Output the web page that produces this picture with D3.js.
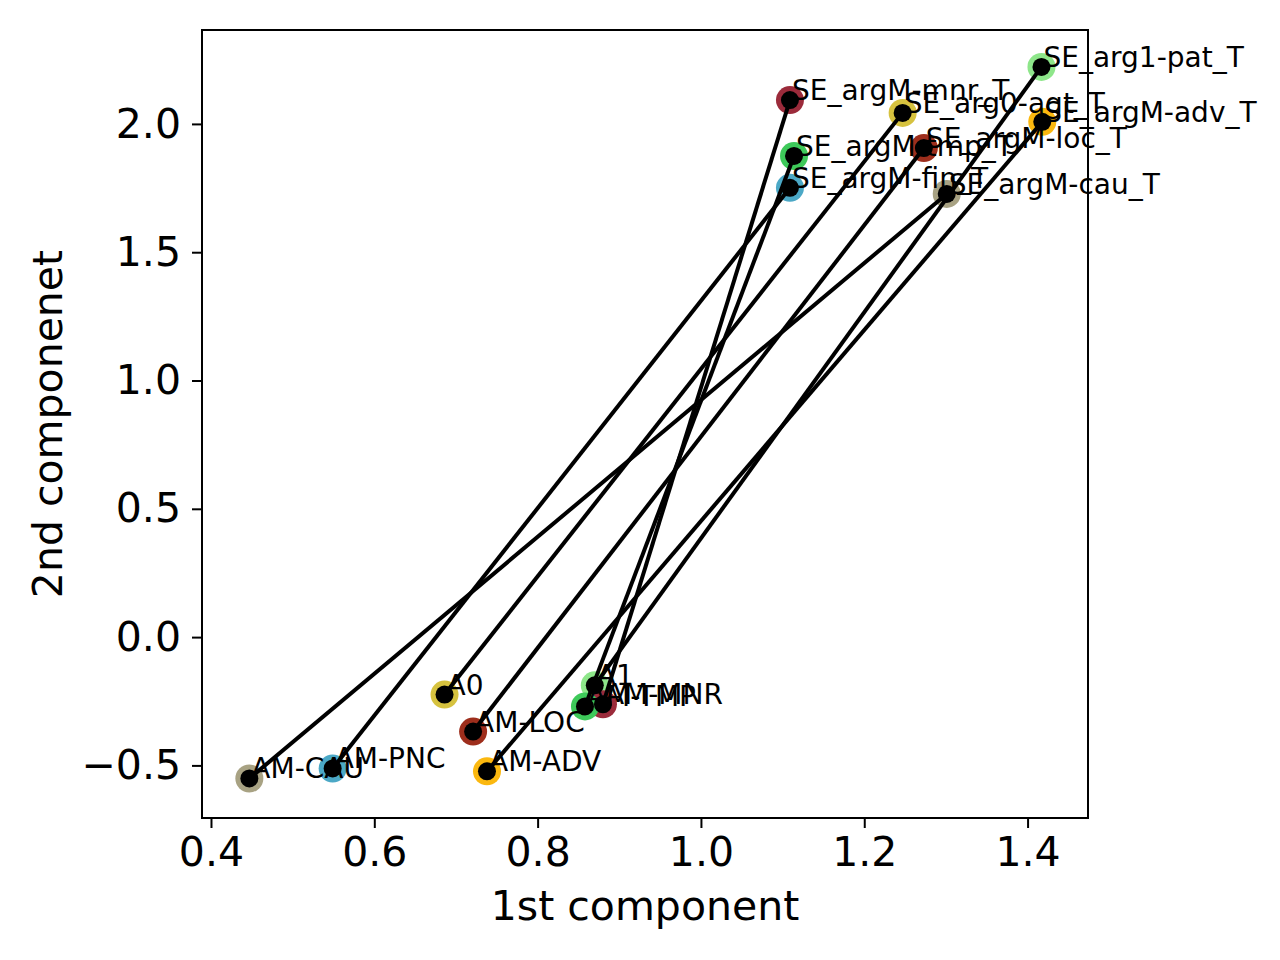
<!DOCTYPE html>
<html>
<head>
<meta charset="utf-8">
<script src="https://cdn.jsdelivr.net/npm/d3@7"></script>
<style>
  body { margin: 0; background: #fff; }
  text { font-family: "DejaVu Sans", sans-serif; }
</style>
</head>
<body>
<script>
// role labels (bottom cluster) and their SE_ counterparts (top cluster)
var srcLabels = ["A1", "AM-MNR", "A0", "AM-ADV", "AM-TMP", "AM-LOC", "AM-PNC", "AM-CAU"];
var srcX = [0.870, 0.880, 0.686, 0.738, 0.858, 0.721, 0.549, 0.447];
var srcY = [-0.188, -0.262, -0.224, -0.523, -0.270, -0.368, -0.512, -0.551];

var tgtLabels = ["SE_arg1-pat_T", "SE_argM-mnr_T", "SE_arg0-agt_T", "SE_argM-adv_T",
                 "SE_argM-tmp_T", "SE_argM-loc_T", "SE_argM-fin_T", "SE_argM-cau_T"];
var tgtX = [1.417, 1.109, 1.247, 1.418, 1.114, 1.273, 1.109, 1.301];
var tgtY = [2.222, 2.093, 2.043, 2.008, 1.875, 1.906, 1.751, 1.727];

var pairColors = ["#8ee68a", "#9b2b3b", "#d6c23f", "#fbb80f", "#3ec95a", "#9e2e1c", "#4ba8c6", "#a8a283"];

var xTicks = [0.4, 0.6, 0.8, 1.0, 1.2, 1.4];
var yTicks = [-0.5, 0.0, 0.5, 1.0, 1.5, 2.0];
var xDomain = [0.389, 1.474];
var yDomain = [-0.705, 2.366];

var W = 1280, H = 960;
var mLeft = 202, mRight = 1088, mTop = 30, mBottom = 818;

var svg = d3.select("body").append("svg")
    .attr("width", W)
    .attr("height", H);

var x = d3.scaleLinear().domain(xDomain).range([mLeft, mRight]);
var y = d3.scaleLinear().domain(yDomain).range([mBottom, mTop]);

var fmt = d3.format(".1f");

// axes
var xAxis = svg.append("g")
    .attr("transform", "translate(0," + mBottom + ")")
    .call(d3.axisBottom(x).tickValues(xTicks).tickFormat(fmt).tickSize(10).tickPadding(9));
var yAxis = svg.append("g")
    .attr("transform", "translate(" + mLeft + ",0)")
    .call(d3.axisLeft(y).tickValues(yTicks).tickFormat(fmt).tickSize(10).tickPadding(11));

[xAxis, yAxis].forEach(function (a) {
    a.select(".domain").remove();
    a.selectAll(".tick line").attr("stroke", "#000").attr("stroke-width", 2);
    a.selectAll(".tick text").attr("fill", "#000").style("font-size", "41px");
});

// frame
svg.append("rect")
    .attr("x", mLeft).attr("y", mTop)
    .attr("width", mRight - mLeft).attr("height", mBottom - mTop)
    .attr("fill", "none").attr("stroke", "#000").attr("stroke-width", 2);

// coloured circles first
var idx = d3.range(srcLabels.length);
idx.forEach(function (i) {
    [[srcX[i], srcY[i]], [tgtX[i], tgtY[i]]].forEach(function (p) {
        svg.append("circle")
            .attr("cx", x(p[0])).attr("cy", y(p[1]))
            .attr("r", 14)
            .attr("fill", pairColors[i]);
    });
});

// connecting lines with black markers
idx.forEach(function (i) {
    svg.append("line")
        .attr("x1", x(srcX[i])).attr("y1", y(srcY[i]))
        .attr("x2", x(tgtX[i])).attr("y2", y(tgtY[i]))
        .attr("stroke", "#000").attr("stroke-width", 4);
    [[srcX[i], srcY[i]], [tgtX[i], tgtY[i]]].forEach(function (p) {
        svg.append("circle")
            .attr("cx", x(p[0])).attr("cy", y(p[1]))
            .attr("r", 9)
            .attr("fill", "#000");
    });
});

// point labels
idx.forEach(function (i) {
    svg.append("text")
        .attr("x", x(srcX[i]) + 2).attr("y", y(srcY[i]))
        .style("font-size", "28px")
        .text(srcLabels[i]);
    svg.append("text")
        .attr("x", x(tgtX[i]) + 2).attr("y", y(tgtY[i]))
        .style("font-size", "28px")
        .text(tgtLabels[i]);
});

// axis titles
svg.append("text")
    .attr("x", (mLeft + mRight) / 2).attr("y", 920)
    .attr("text-anchor", "middle")
    .style("font-size", "41px")
    .text("1st component");
svg.append("text")
    .attr("transform", "translate(62," + (mTop + mBottom) / 2 + ") rotate(-90)")
    .attr("text-anchor", "middle")
    .style("font-size", "41px")
    .text("2nd componenet");
</script>
</body>
</html>
